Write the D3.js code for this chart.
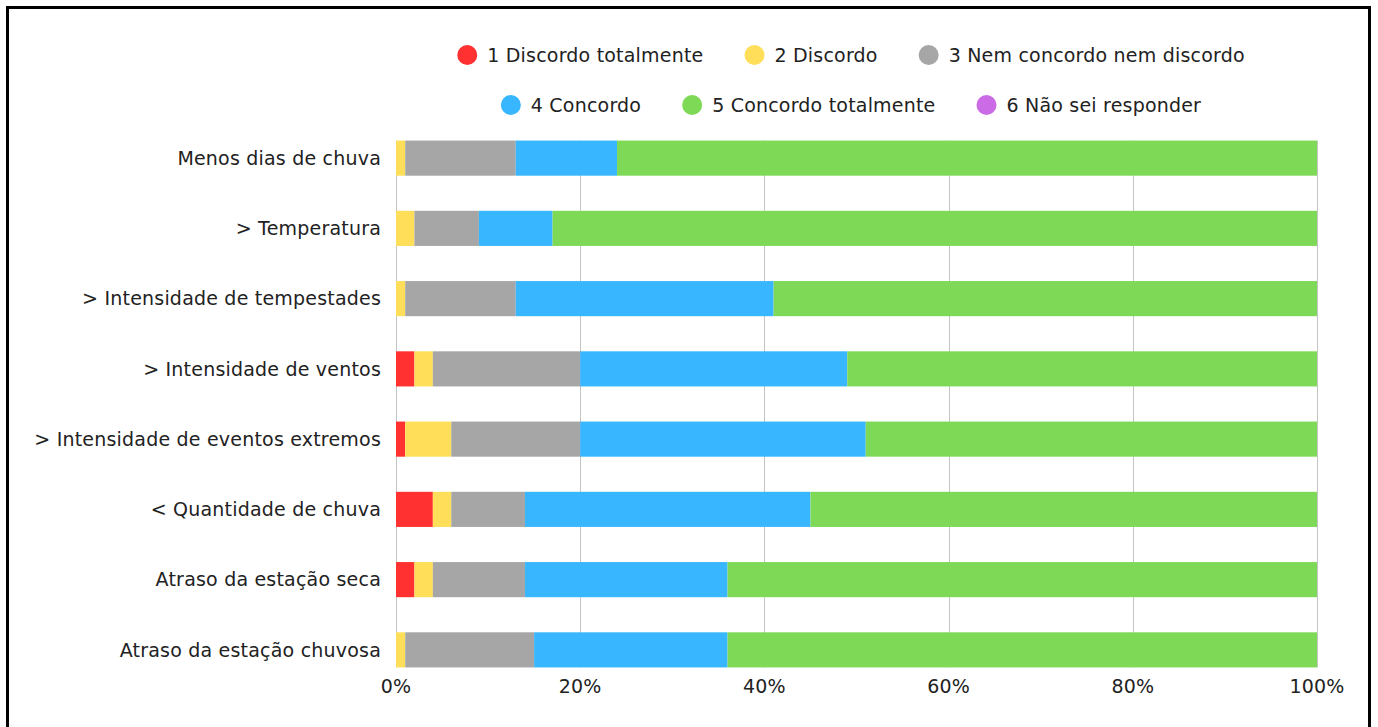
<!DOCTYPE html>
<html lang="pt">
  <head>
    <meta charset="utf-8">
    <title>Percepção de mudanças climáticas</title>
    <script src="https://d3js.org/d3.v7.min.js"></script>
    <style>
      body { margin: 0; background: #fff; }
      text { font-family: "DejaVu Sans", sans-serif; fill: #222; letter-spacing: 0.2px; }
    </style>
  </head>
  <body>
    <div id="chart"></div>
    <script>
      // categories, top to bottom
      var categories = [
        "Menos dias de chuva",
        "> Temperatura",
        "> Intensidade de tempestades",
        "> Intensidade de ventos",
        "> Intensidade de eventos extremos",
        "< Quantidade de chuva",
        "Atraso da estação seca",
        "Atraso da estação chuvosa"
      ];

      var seriesNames = [
        "1 Discordo totalmente",
        "2 Discordo",
        "3 Nem concordo nem discordo",
        "4 Concordo",
        "5 Concordo totalmente",
        "6 Não sei responder"
      ];
      var seriesColors = ["#ff3131", "#ffde59", "#a6a6a6", "#38b6ff", "#7ed957", "#cb6ce6"];

      // percentages per answer, same order as categories
      var discordoTotal = [0, 0, 0, 2, 1, 4, 2, 0];
      var discordo      = [1, 2, 1, 2, 5, 2, 2, 1];
      var neutro        = [12, 7, 12, 16, 14, 8, 10, 14];
      var concordo      = [11, 8, 28, 29, 31, 31, 22, 21];
      var concordoTotal = [76, 83, 59, 51, 49, 55, 64, 64];
      var naoSei        = [0, 0, 0, 0, 0, 0, 0, 0];

      var xTicks = [0, 20, 40, 60, 80, 100];

      var W = 1378, H = 727;
      var margin = {top: 123, right: 61, bottom: 42, left: 396};
      var FONT = 19;

      var svg = d3.select("#chart").append("svg")
        .attr("width", W)
        .attr("height", H);

      // frame
      svg.append("rect")
        .attr("x", 7.5).attr("y", 7.5)
        .attr("width", 1362).attr("height", 730)
        .attr("fill", "none")
        .attr("stroke", "#000")
        .attr("stroke-width", 3);

      var rows = categories.map(function(c, i) {
        return {
          cat: c,
          s0: discordoTotal[i], s1: discordo[i], s2: neutro[i],
          s3: concordo[i], s4: concordoTotal[i], s5: naoSei[i]
        };
      });
      var keys = ["s0", "s1", "s2", "s3", "s4", "s5"];
      var stacked = d3.stack().keys(keys)(rows);

      var x = d3.scaleLinear()
        .domain([0, 100])
        .range([margin.left, W - margin.right]);

      var y = d3.scaleBand()
        .domain(categories)
        .range([margin.top, H - margin.bottom])
        .paddingInner(0.5)
        .paddingOuter(0.25);

      var gridTop = y(categories[0]);
      var gridBottom = y(categories[categories.length - 1]) + y.bandwidth();

      // gridlines
      svg.append("g").selectAll("line")
        .data(xTicks)
        .join("line")
          .attr("x1", function(d) { return Math.round(x(d)) + 0.5; })
          .attr("x2", function(d) { return Math.round(x(d)) + 0.5; })
          .attr("y1", gridTop)
          .attr("y2", gridBottom)
          .attr("stroke", "#c4c4c4")
          .attr("stroke-width", 1);

      // bars
      svg.append("g").selectAll("g")
        .data(stacked)
        .join("g")
          .attr("fill", function(d, i) { return seriesColors[i]; })
        .selectAll("rect")
        .data(function(d) { return d; })
        .join("rect")
          .attr("x", function(d) { return x(d[0]); })
          .attr("width", function(d) { return x(d[1]) - x(d[0]); })
          .attr("y", function(d) { return y(d.data.cat); })
          .attr("height", y.bandwidth());

      // category labels
      svg.append("g").selectAll("text")
        .data(categories)
        .join("text")
          .attr("x", margin.left - 15)
          .attr("y", function(d) { return y(d) + y.bandwidth() / 2; })
          .attr("dy", "0.35em")
          .attr("text-anchor", "end")
          .attr("font-size", FONT)
          .text(function(d) { return d; });

      // x tick labels
      svg.append("g").selectAll("text")
        .data(xTicks)
        .join("text")
          .attr("x", function(d) { return x(d); })
          .attr("y", gridBottom + 19)
          .attr("dy", "0.35em")
          .attr("text-anchor", "middle")
          .attr("font-size", FONT)
          .text(function(d) { return d + "%"; });

      // legend, two centred rows
      var legendRows = [[0, 1, 2], [3, 4, 5]];
      var legendY = [55, 105];
      var legendCx = 851;
      legendRows.forEach(function(idx, r) {
        var g = svg.append("g");
        var items = idx.map(function(i) {
          var t = g.append("text")
            .attr("font-size", FONT)
            .attr("y", legendY[r])
            .attr("dy", "0.35em")
            .text(seriesNames[i]);
          return {i: i, t: t, w: t.node().getComputedTextLength()};
        });
        var gap = 41, dot = 20, pad = 10;
        var total = d3.sum(items, function(d) { return dot + pad + d.w; }) + gap * (items.length - 1);
        var cx = legendCx - total / 2;
        items.forEach(function(d) {
          g.append("circle")
            .attr("cx", cx + dot / 2)
            .attr("cy", legendY[r])
            .attr("r", dot / 2)
            .attr("fill", seriesColors[d.i]);
          d.t.attr("x", cx + dot + pad);
          cx += dot + pad + d.w + gap;
        });
      });
    </script>
  </body>
</html>
